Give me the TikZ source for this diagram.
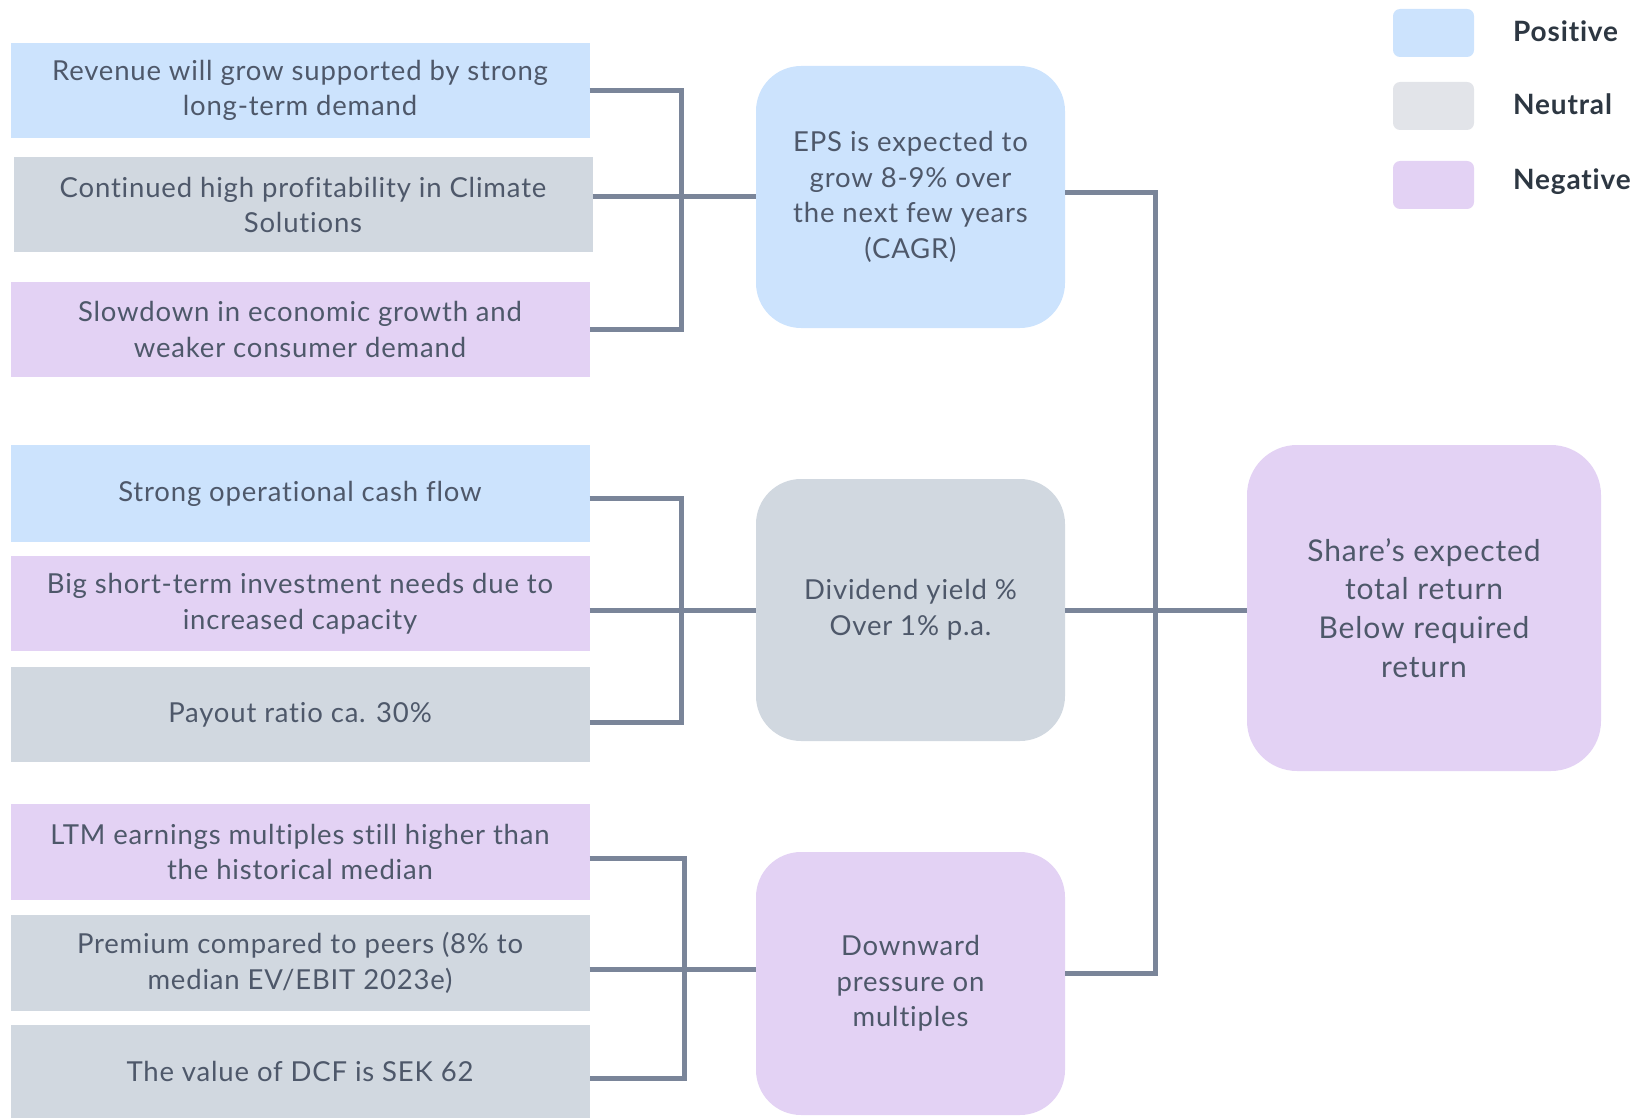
\documentclass[tikz,border=0pt]{standalone}
\usepackage{fontspec}
\setmainfont{Lato}[LetterSpace=3, Ligatures={NoCommon}]
\definecolor{pos}{RGB}{204,227,253}
\definecolor{neu}{RGB}{209,216,224}
\definecolor{neg}{RGB}{227,210,244}
\definecolor{legneu}{RGB}{226,228,233}
\definecolor{conncol}{RGB}{122,133,153}
\definecolor{txt}{RGB}{78,88,106}
\definecolor{legtxt}{RGB}{45,55,66}
\begin{document}
\begin{tikzpicture}[x=1pt,y=-1pt,
  fact/.style={rectangle, minimum width=579pt, minimum height=95pt, align=center, inner sep=0pt, text=txt, font=\fontsize{27.5}{35.6}\selectfont},
  midbox/.style={rectangle, rounded corners=45pt, minimum width=309pt, minimum height=262pt, align=center, inner sep=0pt, text=txt, font=\fontsize{27.5}{35.6}\selectfont},
  finbox/.style={rectangle, rounded corners=50pt, minimum width=354pt, minimum height=326pt, align=center, inner sep=0pt, text=txt, font=\fontsize{30}{38.8}\selectfont},
  legbox/.style={rectangle, rounded corners=7pt, minimum width=81pt, minimum height=48pt, inner sep=0pt},
  leglab/.style={anchor=west, inner sep=0pt, text=legtxt, font=\fontsize{28}{30}\selectfont\bfseries},
  conn/.style={draw=conncol, line width=5pt}
]
\useasboundingbox (0,0) rectangle (1644,1118);

% left facts
\node[fact, fill=pos] (b1) at (300,90.5) {Revenue will grow supported by strong\\long-term demand};
\node[fact, fill=neu] (b2) at (303,205) {Continued high profitability in Climate\\Solutions};
\node[fact, fill=neg] (b3) at (300,329.5) {Slowdown in economic growth and\\weaker consumer demand};
\node[fact, fill=pos, minimum height=97pt] (b4) at (300,493.5) {Strong operational cash flow};
\node[fact, fill=neg] (b5) at (300,603.5) {Big short-term investment needs due to\\increased capacity};
\node[fact, fill=neu] (b6) at (300,714.5) {Payout ratio ca. 30\%};
\node[fact, fill=neg, minimum height=96pt] (b7) at (300,852) {LTM earnings multiples still higher than\\the historical median};
\node[fact, fill=neu, minimum height=96pt] (b8) at (300,963) {Premium compared to peers (8\% to\\median EV/EBIT 2023e)};
\node[fact, fill=neu, minimum height=93pt] (b9) at (300,1071.5) {The value of DCF is SEK 62};

% middle
\node[midbox, fill=pos] (eps) at (910.5,197) {EPS is expected to\\grow 8-9\% over\\the next few years\\(CAGR)};
\node[midbox, fill=neu] (div) at (910.5,610) {Dividend yield \%\\Over 1\% p.a.};
\node[midbox, fill=neg, minimum height=263pt] (dp) at (910.5,983.5) {Downward\\pressure on\\multiples};

% final
\node[finbox, fill=neg] (fin) at (1424,608) {Share’s expected\\total return\\Below required\\return};

% legend
\node[legbox, fill=pos] (l1) at (1433.5,33) {};
\node[legbox, fill=legneu] (l2) at (1433.5,106) {};
\node[legbox, fill=neg] (l3) at (1433.5,185) {};
\node[leglab] (t1) at (1513,31) {Positive};
\node[leglab] (t2) at (1513,104) {Neutral};
\node[leglab] (t3) at (1513,182) {Negative};

% brackets
\draw[conn] (b1.east) -- ++(92,0) |- (b3.east);
\draw[conn] (b2.east |- eps.west) -- (eps.west);
\draw[conn] ([yshift=-5pt]b4.east) -- ++(92,0) |- ([yshift=-8pt]b6.east);
\draw[conn] (b5.east |- div.west) -- (div.west);
\draw[conn] ([yshift=-6pt]b7.east) -- ++(95,0) |- ([yshift=-6.5pt]b9.east);
\draw[conn] ([yshift=-6pt]b8.east) -- ([yshift=-6pt]b8.east -| dp.west);

% right bus
\draw[conn] ([yshift=4pt]eps.east) -- ++(90,0) |- ([yshift=10pt]dp.east);
\draw[conn] (div.east) -- (div.east -| fin.west);
\end{tikzpicture}
\end{document}
